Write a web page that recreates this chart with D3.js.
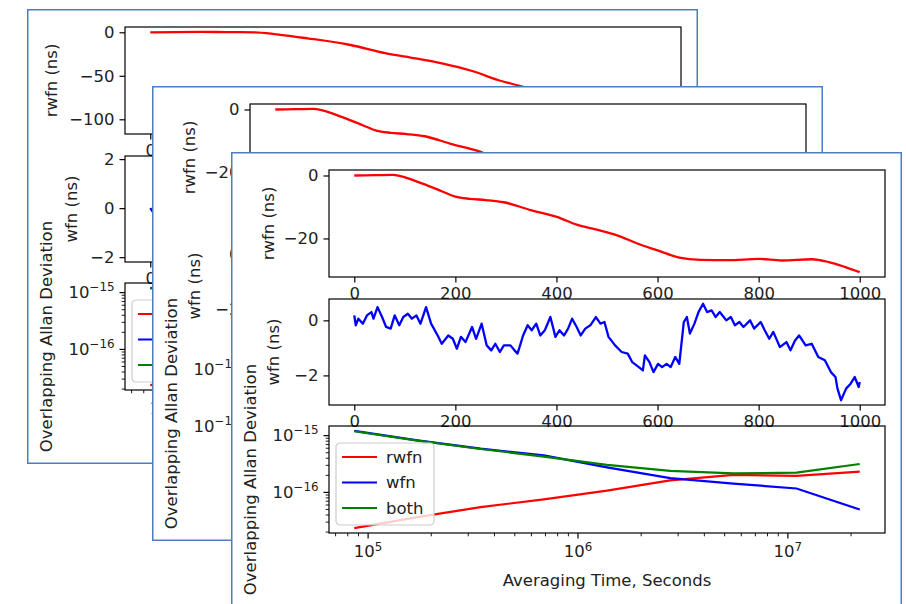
<!DOCTYPE html>
<html>
<head>
<meta charset="utf-8">
<script src="https://cdn.jsdelivr.net/npm/d3@7"></script>
<style>
  body { margin: 0; background: #fff; }
  svg { display: block; }
</style>
</head>
<body>
<svg id="chart" width="906" height="604"></svg>
<script>
// ---- data ----
// front run (the two windows in front show the same figure)
const rwfnT = [0, 40, 76, 93, 135, 170, 200, 228, 260, 296, 347, 402, 440, 480, 520, 560, 600, 643, 685, 740, 800, 846, 905, 939, 970, 1000];
const rwfnV = [0, 0.1, 0.2, -0.3, -2.6, -4.8, -6.7, -7.4, -7.8, -8.5, -10.9, -13.2, -15.6, -17.2, -19.0, -21.6, -23.8, -26.1, -26.8, -26.9, -26.5, -27, -26.6, -27.5, -29.0, -30.7];

const wfnT = [0,3,8,17,25,34,38,46,55,63, 72,80,89,97,106,114,123,131,142,152,
  165,173,186,195,203,211,220,233,241,252, 262,271,279,288,296,309,317,323,334,343,
  351,360,368,377,388,398,406,415,423,431, 440,448,457,467,478,487,495,503,516,529,
  541,550,563,571,575,584,592,601,609,618, 626,635,643,652,658,664,673,681,690,698,
  707,715,723,736,745,753,762,770,783,791, 804,812,821,829,842,855,863,872,880,893,
  905,918,931,943,952,956,963,973,982,990, 998,1000];
const wfnV = [0.18,-0.18,0.06,-0.12,0.18,0.3,0.06,0.48,0.12,-0.24, -0.3,0.18,-0.18,0.12,0.24,0.06,0.18,-0.12,0.48,-0.12,
  -0.55,-0.85,-0.55,-0.67,-1.03,-0.6,-0.79,-0.24,-0.67,-0.12, -0.91,-1.09,-0.85,-1.15,-0.91,-0.91,-1.09,-1.21,-0.55,-0.18,
  -0.36,-0.12,-0.55,-0.36,0.12,-0.6,-0.36,-0.55,-0.3,0.06, -0.24,-0.55,-0.3,-0.18,0.12,-0.12,-0.06,-0.6,-0.91,-1.15,
  -1.21,-1.52,-1.7,-1.82,-1.27,-1.52,-1.88,-1.58,-1.7,-1.58, -1.7,-1.33,-1.58,-0.06,0.12,-0.48,-0.12,0.3,0.6,0.3,
  0.36,0.12,0.3,0,0.12,-0.18,-0.06,-0.24,0,-0.3, -0.06,-0.36,-0.67,-0.42,-0.97,-0.79,-1.09,-0.73,-0.55,-0.91,
  -0.85,-1.33,-1.45,-1.88,-2.06,-2.48,-2.9,-2.48,-2.3,-2.06, -2.42,-2.24];

// back run (window at the back, mostly hidden)
const backRwfnT = [0, 50, 100, 150, 207, 250, 311, 396, 465, 525, 577, 637, 688, 736, 800, 850, 900, 950, 1000];
const backRwfnV = [0, 0.3, 0.5, 0.2, 0, -2.3, -6.9, -14.6, -24, -30, -35.6, -44.5, -54.8, -62.5, -75, -86, -97, -104, -111.3];
const backWfnT = [0,10,25,40,60,80,100,125,150,175, 200,230,260,290,320,350,380,410,440,470,
  500,530,560,590,620,650,680,710,740,770, 800,830,860,890,920,950,980,1000];
const backWfnV = [0,-0.3,-0.5,-0.2,-0.8,-1.1,-0.7,-1.4,-2.0,-1.5, -1.2,-0.6,-0.9,-0.2,0.3,0.1,0.6,0.9,0.5,1.1,
  1.4,0.9,1.2,1.7,1.93,1.5,1.1,1.3,0.8,1.0, 0.6,0.2,0.5,0.0,-0.3,0.1,-0.4,-0.2];

// Allan deviation, averaging time in seconds
const tau = [86400, 172800, 345600, 691200, 1382400, 2764800, 5529600, 11059200, 22118400];
const adevRwfn = [2.3e-17, 3.6e-17, 5.4e-17, 7.4e-17, 1.05e-16, 1.6e-16, 2.0e-16, 1.92e-16, 2.27e-16];
const adevWfn  = [1.19e-15, 8.1e-16, 5.8e-16, 4.4e-16, 2.7e-16, 1.75e-16, 1.4e-16, 1.15e-16, 4.9e-17];
const adevBoth = [1.17e-15, 8.0e-16, 5.7e-16, 4.2e-16, 3.0e-16, 2.35e-16, 2.12e-16, 2.18e-16, 3.1e-16];

const legendNames = ["rwfn", "wfn", "both"];
const timeTicks = [0, 200, 400, 600, 800, 1000];
const rwfnTicks = [-20, 0];
const backRwfnTicks = [-100, -50, 0];
const wfnTicks = [-2, 0];
const backWfnTicks = [-2, 0, 2];
const tauTicks = [1e5, 1e6, 1e7];
const adevTicks = [1e-16, 1e-15];

// ---- layout ----
const svg = d3.select("#chart");
const winW = 671, winH = 455;
const plotL = 98, plotR = 654;
const rows = [[18, 125], [147, 253], [274, 381]];
const fs = 16.5;
const font = "DejaVu Sans";
const red = "#ff0000", blue = "#0000ff", green = "#008000";

const runs = {
  front: { rT: rwfnT, rV: rwfnV, rTicks: rwfnTicks, wT: wfnT, wV: wfnV, wTicks: wfnTicks, labelX: [37, 42, 19] },
  back:  { rT: backRwfnT, rV: backRwfnV, rTicks: backRwfnTicks, wT: backWfnT, wV: backWfnV, wTicks: backWfnTicks, labelX: [24, 44, 19] }
};
const windows = [
  { x: 27,  y: 9,   run: runs.back },
  { x: 152, y: 86,  run: runs.front },
  { x: 231, y: 152, run: runs.front }
];

function padLin([a, b]) { const m = (b - a) * 0.05; return [a - m, b + m]; }
function padLog([a, b]) {
  const la = Math.log10(a), lb = Math.log10(b), m = (lb - la) * 0.05;
  return [Math.pow(10, la - m), Math.pow(10, lb + m)];
}
const minus = s => String(s).replace("-", "\u2212");

function styleAxis(sel, major) {
  sel.attr("font-family", font).attr("font-size", fs);
  sel.select(".domain").remove();
  sel.selectAll(".tick line").attr("stroke", "#000").attr("stroke-width", major ? 1.2 : 0.9);
  sel.selectAll(".tick text").attr("fill", "#222");
}

function powLabels(sel) {
  sel.selectAll(".tick text").each(function(d) {
    const t = d3.select(this).text(null);
    t.append("tspan").text("10");
    t.append("tspan").attr("dy", "-0.55em").attr("font-size", "72%").text(minus(Math.round(Math.log10(d))));
  });
}

function spine(g, r) {
  g.append("rect").attr("x", plotL).attr("y", r[0])
    .attr("width", plotR - plotL).attr("height", r[1] - r[0])
    .attr("fill", "none").attr("stroke", "#000").attr("stroke-width", 1.2);
}

function ylabel(g, x, r, txt) {
  g.append("text")
    .attr("transform", `translate(${x},${(r[0] + r[1]) / 2}) rotate(-90)`)
    .attr("text-anchor", "middle").attr("dy", "0.35em")
    .attr("font-family", font).attr("font-size", fs).attr("fill", "#222")
    .text(txt);
}

function timePanel(g, r, T, V, yTicks, color, label, lx, curve) {
  const x = d3.scaleLinear().domain(padLin(d3.extent(T))).range([plotL, plotR]);
  const y = d3.scaleLinear().domain(padLin(d3.extent(V))).range([r[1], r[0]]);
  g.append("path").datum(d3.range(T.length))
    .attr("fill", "none").attr("stroke", color).attr("stroke-width", 2.3)
    .attr("stroke-linejoin", "round")
    .attr("d", d3.line().x(i => x(T[i])).y(i => y(V[i])).curve(curve));
  spine(g, r);
  g.append("g").attr("transform", `translate(0,${r[1]})`)
    .call(d3.axisBottom(x).tickValues(timeTicks).tickSize(5.5).tickPadding(5).tickFormat(d3.format("d")))
    .call(styleAxis, true);
  g.append("g").attr("transform", `translate(${plotL},0)`)
    .call(d3.axisLeft(y).tickValues(yTicks).tickSize(5.5).tickPadding(5).tickFormat(d3.format("d")))
    .call(styleAxis, true);
  ylabel(g, lx, r, label);
}

function adevPanel(g, r, lx) {
  const x = d3.scaleLog().domain(padLog(d3.extent(tau))).range([plotL, plotR]);
  const all = adevRwfn.concat(adevWfn, adevBoth);
  const y = d3.scaleLog().domain(padLog(d3.extent(all))).range([r[1], r[0]]);
  const series = [adevRwfn, adevWfn, adevBoth];
  const colors = [red, blue, green];
  series.forEach((s, k) => {
    g.append("path").datum(d3.range(tau.length))
      .attr("fill", "none").attr("stroke", colors[k]).attr("stroke-width", 2.2)
      .attr("d", d3.line().x(i => x(tau[i])).y(i => y(s[i])));
  });
  spine(g, r);
  const minorX = x.ticks().filter(v => !tauTicks.includes(v));
  const minorY = y.ticks().filter(v => !adevTicks.some(t => Math.abs(t - v) / t < 1e-6));
  g.append("g").attr("transform", `translate(0,${r[1]})`)
    .call(d3.axisBottom(x).tickValues(minorX).tickSize(3.3).tickFormat(""))
    .call(styleAxis, false);
  g.append("g").attr("transform", `translate(0,${r[1]})`)
    .call(d3.axisBottom(x).tickValues(tauTicks).tickSize(5.5).tickPadding(7))
    .call(styleAxis, true).call(powLabels);
  g.append("g").attr("transform", `translate(${plotL},0)`)
    .call(d3.axisLeft(y).tickValues(minorY).tickSize(3.3).tickFormat(""))
    .call(styleAxis, false);
  g.append("g").attr("transform", `translate(${plotL},0)`)
    .call(d3.axisLeft(y).tickValues(adevTicks).tickSize(5.5).tickPadding(5))
    .call(styleAxis, true).call(powLabels);
  ylabel(g, lx, r, "Overlapping Allan Deviation");
  g.append("text").attr("x", (plotL + plotR) / 2).attr("y", r[1] + 53)
    .attr("text-anchor", "middle").attr("font-family", font).attr("font-size", fs).attr("fill", "#222")
    .text("Averaging Time, Seconds");

  // legend
  const lg = g.append("g").attr("transform", `translate(${plotL + 7},${r[0] + 17})`);
  lg.append("rect").attr("width", 98).attr("height", 82).attr("rx", 4)
    .attr("fill", "#fff").attr("fill-opacity", 0.8).attr("stroke", "#ccc").attr("stroke-width", 1.2);
  legendNames.forEach((name, i) => {
    const yy = 14 + i * 25.5;
    lg.append("line").attr("x1", 6).attr("x2", 41).attr("y1", yy).attr("y2", yy)
      .attr("stroke", colors[i]).attr("stroke-width", 2.2);
    lg.append("text").attr("x", 50).attr("y", yy).attr("dy", "0.35em")
      .attr("font-family", font).attr("font-size", fs).attr("fill", "#222").text(name);
  });
}

const frames = [];
windows.forEach((w, n) => {
  const id = "win" + n;
  svg.append("clipPath").attr("id", id).append("rect").attr("width", winW).attr("height", winH);
  const outer = svg.append("g").attr("transform", `translate(${w.x},${w.y})`);
  outer.append("rect").attr("width", winW).attr("height", winH).attr("fill", "#fff");
  const g = outer.append("g").attr("clip-path", `url(#${id})`);
  const run = w.run;
  timePanel(g, rows[0], run.rT, run.rV, run.rTicks, red, "rwfn (ns)", run.labelX[0], d3.curveMonotoneX);
  timePanel(g, rows[1], run.wT, run.wV, run.wTicks, blue, "wfn (ns)", run.labelX[1], d3.curveLinear);
  adevPanel(g, rows[2], run.labelX[2]);
  outer.append("rect").attr("x", 0.75).attr("y", 0.75).attr("width", winW - 1.5).attr("height", winH - 1.5)
    .attr("fill", "none").attr("stroke", "#4a7ebf").attr("stroke-width", 1.5);
  frames.push(g);
});

// texts of a back window that sit wholly under a window in front are never seen: drop them
frames.forEach((g, n) => {
  const front = windows.slice(n + 1);
  g.selectAll("text").each(function() {
    const b = this.getBoundingClientRect();
    const covered = front.some(w => b.left >= w.x && b.right <= w.x + winW && b.top >= w.y && b.bottom <= w.y + winH);
    if (covered) d3.select(this).remove();
  });
});
</script>
</body>
</html>
